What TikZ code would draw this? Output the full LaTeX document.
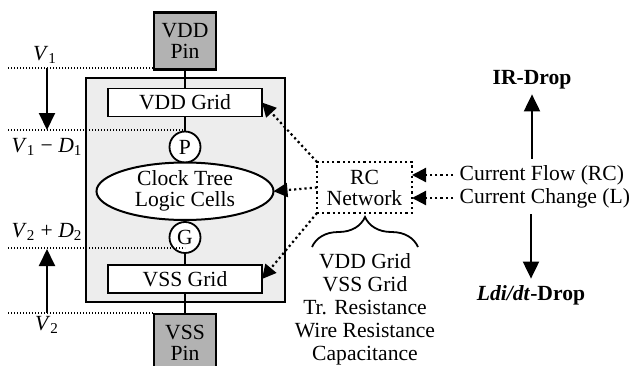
\documentclass[tikz,border=0pt]{standalone}
\usepackage{fontspec}
\setmainfont{Liberation Serif}
\usetikzlibrary{arrows.meta,positioning,shapes.geometric,decorations.pathreplacing}

\begin{document}
\begin{tikzpicture}[x=0.5pt, y=-0.5pt, font=\fontsize{10.8}{11}\selectfont, outer sep=0pt,
  pinbox/.style={draw, line width=1.2pt, fill=gray!60, align=center, inner sep=0pt, minimum width=31pt, minimum height=28.5pt, font=\fontsize{10.8}{10.5}\selectfont},
  gridbox/.style={draw, line width=0.8pt, fill=white, minimum width=77pt, minimum height=14pt, inner sep=0pt},
  railnode/.style={draw, circle, line width=0.9pt, fill=white, minimum size=15.5pt, inner sep=0pt},
  hdot/.style={line width=0.65pt, dash pattern=on 0.65pt off 0.85pt},
  rcdot/.style={line width=1.1pt, dash pattern=on 1.1pt off 1.5pt},
  rcarrow/.style={rcdot, -{Triangle[length=7pt,width=7pt]}},
  droparrow/.style={line width=1pt, -{Triangle[length=8.5pt,width=8pt]}},
  rail/.style={line width=1pt}]
\path[use as bounding box, fill=white] (0,0) rectangle (631,365);

\node[draw, line width=0.6pt, fill=gray!14, minimum width=99.5pt, minimum height=112pt] (core) at (185.5,190) {};

\node[pinbox] (vddpin) at (185,41) {VDD\\Pin};
\node[gridbox, below=9.5pt of vddpin] (vddgrid) {VDD Grid};
\node[railnode, below=7.5pt of vddgrid] (pnode) {P};
\node[draw, ellipse, line width=1pt, fill=white, align=center, inner sep=0pt, minimum width=88.5pt, minimum height=27.5pt, font=\fontsize{10.8}{10.5}\selectfont, below=0pt of pnode] (cells) {Clock Tree\\Logic Cells};
\node[railnode, below=1pt of cells] (gnode) {G};
\node[gridbox, below=6pt of gnode] (vssgrid) {VSS Grid};
\node[pinbox, below=10.5pt of vssgrid] (vsspin) {VSS\\Pin};

\draw[rail] (vddpin) -- (vddgrid);
\draw[rail] (vddgrid) -- (pnode);
\draw[rail] (gnode) -- (vssgrid);
\draw[rail] (vssgrid) -- (vsspin);

\coordinate (l1) at (8,68);
\coordinate (l2) at (8,130);
\coordinate (l3) at (8,248);
\coordinate (l4) at (8,313);
\draw[hdot] (l1) -- (l1 -| vddpin.west);
\draw[hdot] (l2) -- (l2 -| pnode);
\draw[hdot] (l3) -- (l3 -| gnode);
\draw[hdot] (l4) -- (l4 -| vsspin.west);

\node (v1) at (45,55) {\textit{V}\textsubscript{1}};
\node (v1d1) at (47,147) {\textit{V}\textsubscript{1} − \textit{D}\textsubscript{1}};
\node (v2d2) at (47,232) {\textit{V}\textsubscript{2} + \textit{D}\textsubscript{2}};
\node (v2) at (47,325) {\textit{V}\textsubscript{2}};
\coordinate (a1) at (47,68);
\coordinate (a2) at (47,130);
\coordinate (a3) at (47,249);
\coordinate (a4) at (47,313);
\draw[droparrow] (a1) -- (a2);
\draw[droparrow] (a4) -- (a3);

\node[draw, rcdot, align=center, inner sep=0pt, minimum width=47.5pt, minimum height=25.5pt, font=\fontsize{10.8}{10.5}\selectfont] (rc) at (364.5,187.5) {RC\\Network};
\draw[rcarrow] (rc.north west) -- (vddgrid.east);
\draw[rcarrow] (rc.west) -- (cells.east);
\draw[rcarrow] (rc.south west) -- (vssgrid.east);

\node[anchor=west, inner sep=3.3pt] (cflow) at (453,175) {Current Flow (RC)};
\node[anchor=west, inner sep=3.3pt] (cchange) at (453,198) {Current Change (L)};
\draw[rcarrow] (cflow.west) -- (cflow.west -| rc.east);
\draw[rcarrow] (cchange.west) -- (cchange.west -| rc.east);

\node[font=\fontsize{10.8}{11}\selectfont\bfseries, inner sep=2.5pt] (irdrop) at (532,80) {IR-Drop};
\node[font=\fontsize{10.8}{11}\selectfont\bfseries, inner sep=3.3pt] (ldrop) at (531,295) {\textit{Ldi/dt}-Drop};
\draw[droparrow] (cflow.north -| irdrop) -- (irdrop);
\draw[droparrow] (cchange.south -| ldrop) -- (ldrop);

\draw[decorate, decoration={brace, amplitude=15pt}, line width=0.9pt] (312,247) -- (418,247);
\node[align=center, inner sep=0pt, font=\fontsize{10.8}{11.5}\selectfont] (parts) at (365,309) {VDD Grid\\VSS Grid\\Tr. Resistance\\Wire Resistance\\Capacitance};
\end{tikzpicture}
\end{document}
